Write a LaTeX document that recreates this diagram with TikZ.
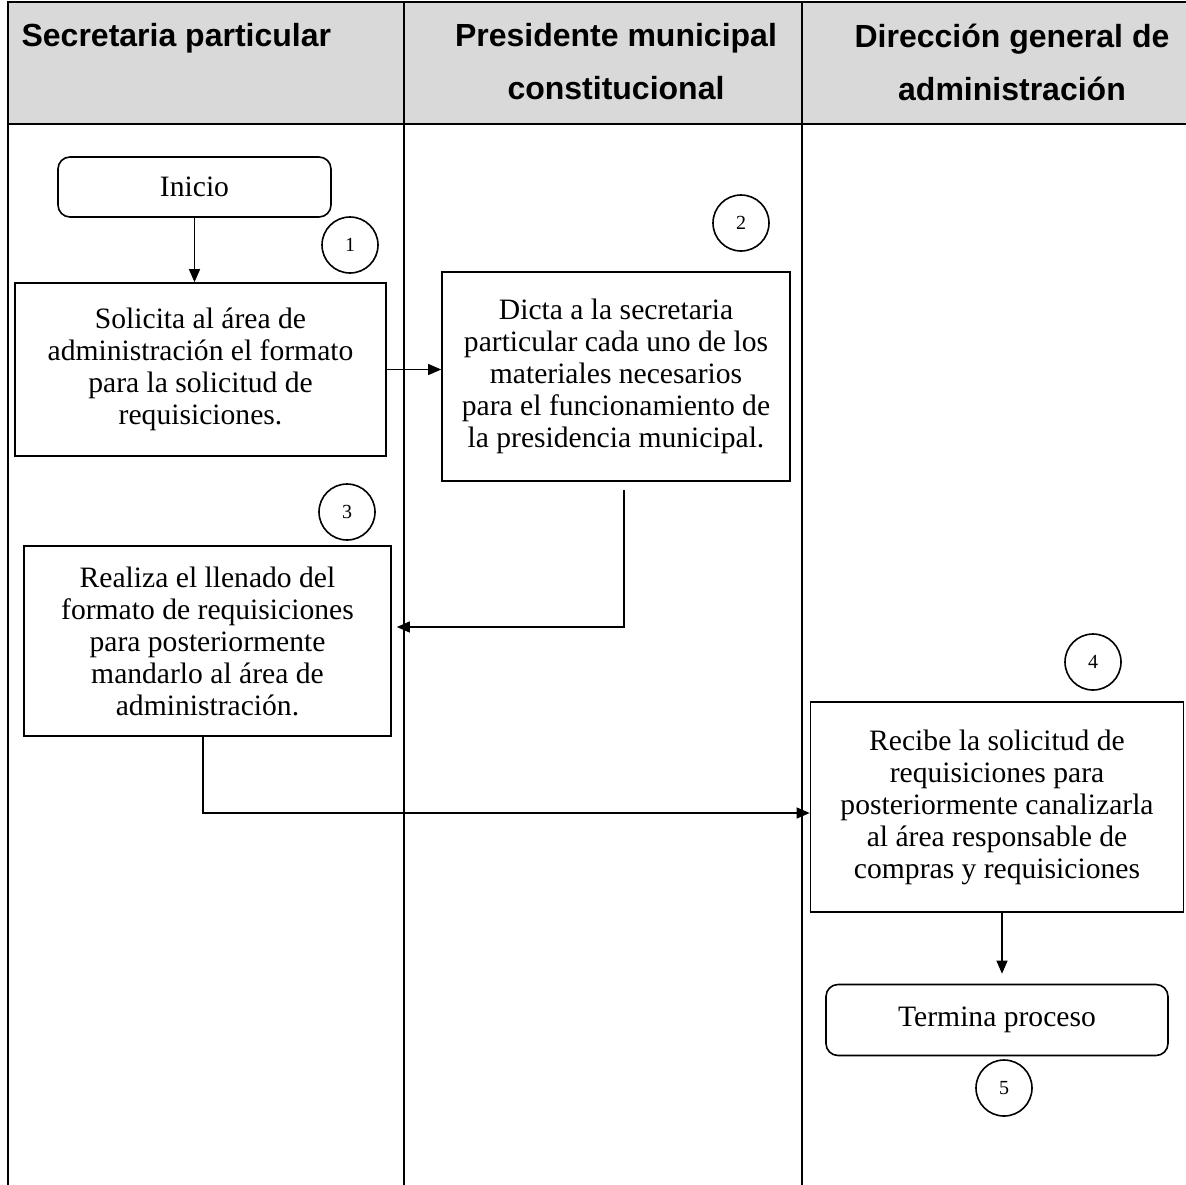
\documentclass[tikz,border=0pt]{standalone}
\usepackage{fontspec}
\setmainfont{Liberation Serif}
\newfontfamily\lanefont{Liberation Sans}
\usetikzlibrary{positioning}
\usetikzlibrary{arrows.meta}
\definecolor{headgray}{RGB}{217,217,217}
\tikzset{step box/.style={rectangle,draw,line width=1.6pt,align=center,inner sep=0pt,font=\fontsize{29.6}{32}\selectfont},
  term box/.style={step box,rounded corners=12pt},
  num node/.style={circle,draw,line width=1.6pt,minimum size=56pt,inner sep=0pt,font=\fontsize{20}{22}\selectfont},
  lane title/.style={font=\lanefont\bfseries\fontsize{32}{53}\selectfont,align=center,inner sep=0pt},
  lane line/.style={line width=1.8pt},}

\begin{document}
\begin{tikzpicture}[x=1pt, y=-1pt, >={Triangle[length=13pt,width=11pt]}, line width=1.2pt]
	\useasboundingbox (0,0) rectangle (1186,1184);
	% swimlanes
	\fill[headgray] (8,2) rectangle (1200,124);
	\draw[lane line] (1200,2) -- (8,2) -- (8,1200);
	\draw[lane line] (8,124) -- (1200,124);
	\draw[lane line] (404,2) -- (404,1200);
	\draw[lane line] (802,2) -- (802,1200);
	\node[lane title, anchor=north west] (sec) at (21,23) {Secretaria particular};
	\node[lane title, anchor=north] (pres) at (616,23) {Presidente municipal\\constitucional};
	\node[lane title, anchor=north] (dir) at (1012,23) {Dirección general de\\administración};

	% steps
	\node[term box, minimum width=273pt, minimum height=60pt] (inicio) at (194.5,187) {Inicio};
	\node[step box, minimum width=371pt, minimum height=173pt] (solicita) at (200.5,369.5)
		{Solicita al área de\\administración el formato\\para la solicitud de\\requisiciones.};
	\node[step box, minimum width=348pt, minimum height=209pt] (dicta) at (616,376.5)
		{Dicta a la secretaria\\particular cada uno de los\\materiales necesarios\\para el funcionamiento de\\la presidencia municipal.};
	\node[step box, minimum width=367pt, minimum height=190pt] (realiza) at (207.5,641)
		{Realiza el llenado del\\formato de requisiciones\\para posteriormente\\mandarlo al área de\\administración.};
	\node[step box, minimum width=373pt, minimum height=210pt] (recibe) at (997,807)
		{Recibe la solicitud de\\requisiciones para\\posteriormente canalizarla\\al área responsable de\\compras y requisiciones};
	\node[term box, minimum width=342pt, minimum height=71pt] (termina) at (997,1020) {Termina proceso};

	% step numbers
	\node[num node] (n1) at (350,245) {1};
	\node[num node] (n2) at (741,223) {2};
	\node[num node] (n3) at (347,512) {3};
	\node[num node] (n4) at (1093,662) {4};
	\node[num node] (n5) at (1004,1088) {5};

	\draw[->] (inicio.south) -- (inicio.south |- solicita.north);
	\draw[->] (solicita.east) -- (solicita.east -| dicta.west);
	\draw[->] ([shift={(8,8)}]dicta.south) |- ([shift={(5,-14)}]realiza.east);
	\draw[->] ([shift={(-4.5,0)}]realiza.south) |- ([shift={(0,6)}]recibe.west);
	\draw[->] ([shift={(5,0)}]recibe.south) -- ([shift={(5,-10)}]termina.north);
\end{tikzpicture}
\end{document}
